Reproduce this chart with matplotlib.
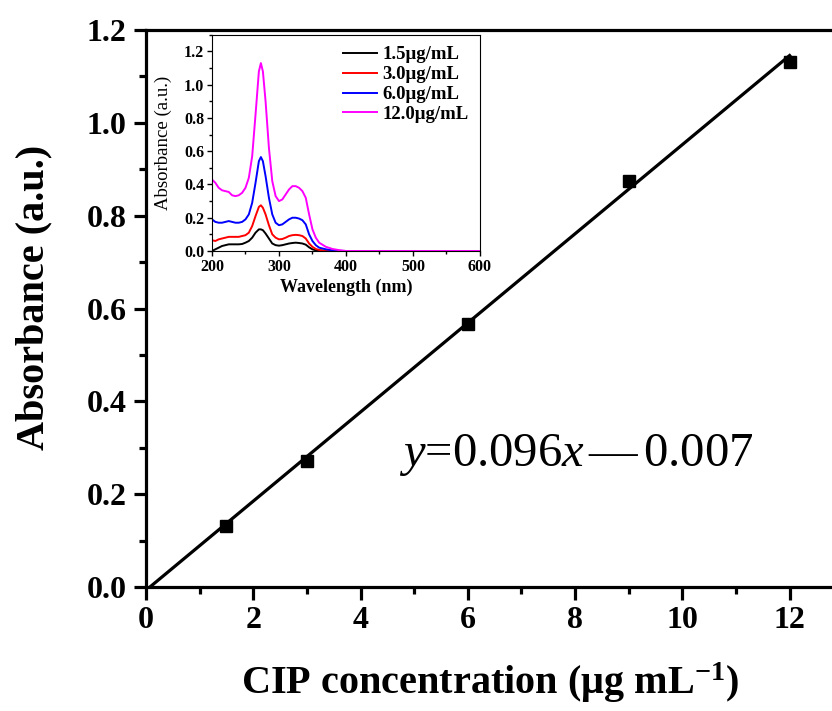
import matplotlib
matplotlib.use("Agg")
import matplotlib.pyplot as plt
from matplotlib.ticker import MultipleLocator

plt.rcParams['font.family'] = ['Liberation Serif', 'DejaVu Serif']
plt.rcParams['mathtext.fontset'] = 'custom'
plt.rcParams['mathtext.rm'] = 'Liberation Serif'
plt.rcParams['mathtext.it'] = 'Liberation Serif:italic'
plt.rcParams['mathtext.bf'] = 'Liberation Serif:bold'

# calibration data
conc = [1.5, 3.0, 6.0, 9.0, 12.0]
absorb = [0.132, 0.272, 0.566, 0.874, 1.13]
slope = 0.096
intercept = -0.007
fit_x = [-intercept / slope, 12.0]

# inset spectra
wavelength = [200, 205, 210, 215, 220, 225, 230, 235, 240, 245, 250, 255, 260, 265,
              270, 273, 276, 280, 285, 290, 295, 300, 305, 310, 315, 320, 325, 330,
              335, 340, 345, 350, 355, 360, 370, 380, 390, 400, 450, 500, 550, 600]
spec_12 = [0.43, 0.41, 0.38, 0.365, 0.36, 0.355, 0.335, 0.33, 0.335, 0.35, 0.38, 0.44,
           0.57, 0.82, 1.08, 1.13, 1.08, 0.90, 0.62, 0.42, 0.33, 0.30, 0.31, 0.34, 0.37,
           0.39, 0.39, 0.38, 0.36, 0.32, 0.22, 0.13, 0.08, 0.05, 0.025, 0.012, 0.005,
           0.0, 0.0, 0.0, 0.0, 0.0]
spec_6 = [0.19, 0.175, 0.17, 0.17, 0.175, 0.18, 0.175, 0.17, 0.17, 0.175, 0.19, 0.22,
          0.29, 0.41, 0.54, 0.565, 0.54, 0.45, 0.32, 0.22, 0.17, 0.155, 0.16, 0.175, 0.19,
          0.20, 0.20, 0.195, 0.185, 0.16, 0.10, 0.06, 0.035, 0.02, 0.01, 0.004, 0.001,
          0.0, 0.0, 0.0, 0.0, 0.0]
spec_3 = [0.065, 0.06, 0.07, 0.075, 0.08, 0.085, 0.085, 0.085, 0.085, 0.09, 0.095, 0.11,
          0.15, 0.21, 0.265, 0.275, 0.26, 0.22, 0.155, 0.10, 0.08, 0.07, 0.072, 0.08, 0.09,
          0.095, 0.097, 0.095, 0.09, 0.075, 0.045, 0.025, 0.012, 0.006, 0.002, 0.0, 0.0,
          0.0, 0.0, 0.0, 0.0, 0.0]
spec_15 = [0.0, 0.01, 0.02, 0.03, 0.035, 0.04, 0.04, 0.04, 0.04, 0.042, 0.05, 0.06,
           0.08, 0.11, 0.13, 0.13, 0.125, 0.105, 0.075, 0.045, 0.035, 0.032, 0.035, 0.04,
           0.045, 0.048, 0.05, 0.048, 0.045, 0.038, 0.022, 0.01, 0.004, 0.001, 0.0, 0.0,
           0.0, 0.0, 0.0, 0.0, 0.0, 0.0]
spectra = [spec_15, spec_3, spec_6, spec_12]
spec_labels = ['1.5μg/mL', '3.0μg/mL', '6.0μg/mL', '12.0μg/mL']
spec_colors = ['black', 'red', 'blue', 'magenta']

fig = plt.figure(figsize=(8.32, 7.11), dpi=100)
ax = fig.add_axes([0.1755, 0.1744, 0.838, 0.7834])

ax.plot(fit_x, [slope * x + intercept for x in fit_x], color='black', lw=2.3)
ax.plot(conc, absorb, 's', color='black', ms=8.5)

ax.set_xlim(0, 13)
ax.set_ylim(0, 1.2)
ax.xaxis.set_minor_locator(MultipleLocator(1))
ax.yaxis.set_major_locator(MultipleLocator(0.2))
ax.yaxis.set_minor_locator(MultipleLocator(0.1))
ax.set_xticks([0, 2, 4, 6, 8, 10, 12])
ax.tick_params(which='major', direction='out', length=9, width=2.3, labelsize=23, pad=5)
ax.tick_params(which='minor', direction='out', length=5, width=2.3)
for lab in ax.get_xticklabels() + ax.get_yticklabels():
    lab.set_fontweight('bold')
for sp in ax.spines.values():
    sp.set_linewidth(2.3)

fig.text(490 / 832, 1 - 683 / 711, r'CIP concentration (μg mL$^{\mathbf{-1}}$)',
         fontsize=29, fontweight='bold', ha='center', va='center')
fig.text(34 / 832, 1 - 297 / 711, 'Absorbance (a.u.)', fontsize=29, fontweight='bold',
         rotation=90, ha='center', va='center')

ax.text(4.72, 0.26, r'$\mathit{y}$=0.096$\mathit{x}\,$—$\,$0.007', fontsize=35)

# inset
ins = fig.add_axes([0.2548, 0.647, 0.322, 0.304])
for spec, lab, col in zip(spectra, spec_labels, spec_colors):
    ins.plot(wavelength, spec, color=col, lw=1.4, label=lab)
ins.set_xlim(200, 600)
ins.set_ylim(0, 1.3)
ins.xaxis.set_major_locator(MultipleLocator(100))
ins.xaxis.set_minor_locator(MultipleLocator(50))
ins.yaxis.set_major_locator(MultipleLocator(0.2))
ins.yaxis.set_minor_locator(MultipleLocator(0.1))
ins.tick_params(which='major', direction='out', length=3.5, width=1, labelsize=11.5, pad=2)
ins.tick_params(which='minor', direction='out', length=2, width=1)
for lab in ins.get_xticklabels() + ins.get_yticklabels():
    lab.set_fontweight('bold')
ins.set_xlabel('Wavelength (nm)', fontsize=13, fontweight='bold', labelpad=3)
ins.set_ylabel('Absorbance (a.u.)', fontsize=13.5, labelpad=9)
ins.legend(loc='upper right', frameon=False, prop={'weight': 'bold', 'size': 13.5},
           handlelength=1.8, handletextpad=0.3, labelspacing=0.15, borderaxespad=0.2)

fig.savefig('out.png', dpi=100)
